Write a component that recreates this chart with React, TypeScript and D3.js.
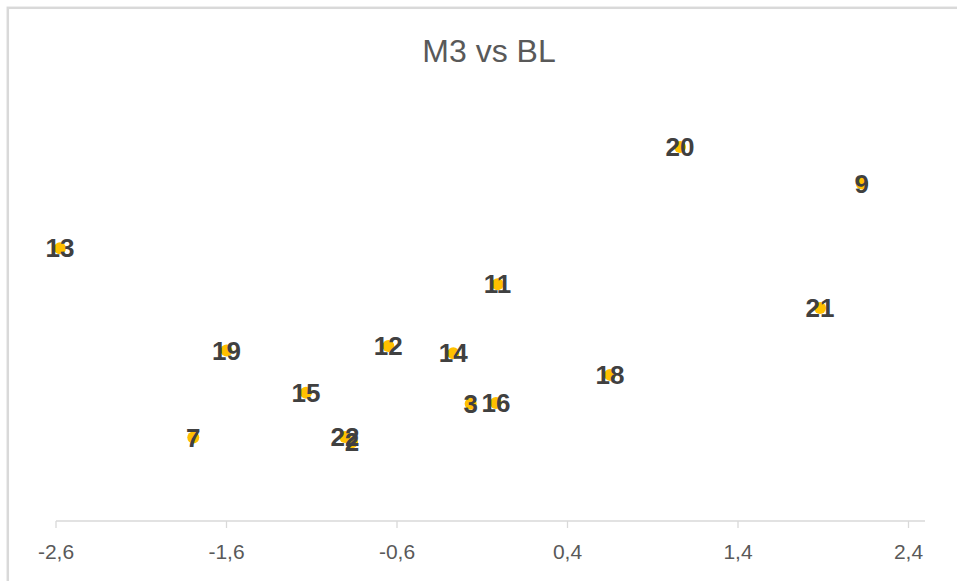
import React from "react";
import * as d3 from "d3";

const pointLabels = ["13", "19", "7", "12", "14", "11", "18", "15", "3", "16", "22", "2", "20", "9", "21"];
const blValues = [-2.577, -1.6, -1.795, -0.651, -0.27, -0.01, 0.649, -1.134, -0.168, -0.02, -0.905, -0.864, 1.06, 2.126, 1.881];
const m3Values = [6.4, 4.0, 1.96, 4.11, 3.94, 5.56, 3.43, 3.01, 2.75, 2.77, 1.97, 1.85, 8.78, 7.92, 5.0];
const xTicks = [-2.6, -1.6, -0.6, 0.4, 1.4, 2.4];
const chartTitle = "M3 vs BL";

const W = 957;
const H = 581;

export default function App() {
  const x = d3.scaleLinear().domain([-2.6, 2.4]).range([56, 908.5]);
  const y = d3.scaleLinear().domain([0, 10]).range([521, 95]);
  const fmt = (v: number) => v.toFixed(1).replace(".", ",");
  const axisY = 521;

  return (
    <svg
      width={W}
      height={H}
      style={{ position: "absolute", left: 0, top: 0, background: "#fff" }}
      fontFamily="'Liberation Sans', Arial, sans-serif"
    >
      <rect x={0} y={0} width={W} height={H} fill="#fff" />
      <rect x={7.8} y={7.8} width={W + 20} height={H + 20} fill="none" stroke="#d9d9d9" strokeWidth={2.5} />
      <text x={489} y={61.5} textAnchor="middle" fontSize={32} fill="#595959">
        {chartTitle}
      </text>
      <line x1={56} x2={925} y1={axisY} y2={axisY} stroke="#d9d9d9" strokeWidth={1.3} />
      {xTicks.map((t) => (
        <g key={t}>
          <line x1={x(t)} x2={x(t)} y1={axisY} y2={axisY + 7} stroke="#d9d9d9" strokeWidth={1.3} />
          <text x={x(t)} y={559} textAnchor="middle" fontSize={21} fill="#595959">
            {fmt(t)}
          </text>
        </g>
      ))}
      {blValues.map((v, i) => (
        <circle key={"c" + i} cx={x(v)} cy={y(m3Values[i])} r={6} fill="#FFC000" />
      ))}
      {blValues.map((v, i) => (
        <text
          key={"t" + i}
          x={x(v)}
          y={y(m3Values[i])}
          textAnchor="middle"
          dominantBaseline="central"
          fontSize={26}
          fontWeight="bold"
          fill="#404040"
        >
          {pointLabels[i]}
        </text>
      ))}
    </svg>
  );
}
